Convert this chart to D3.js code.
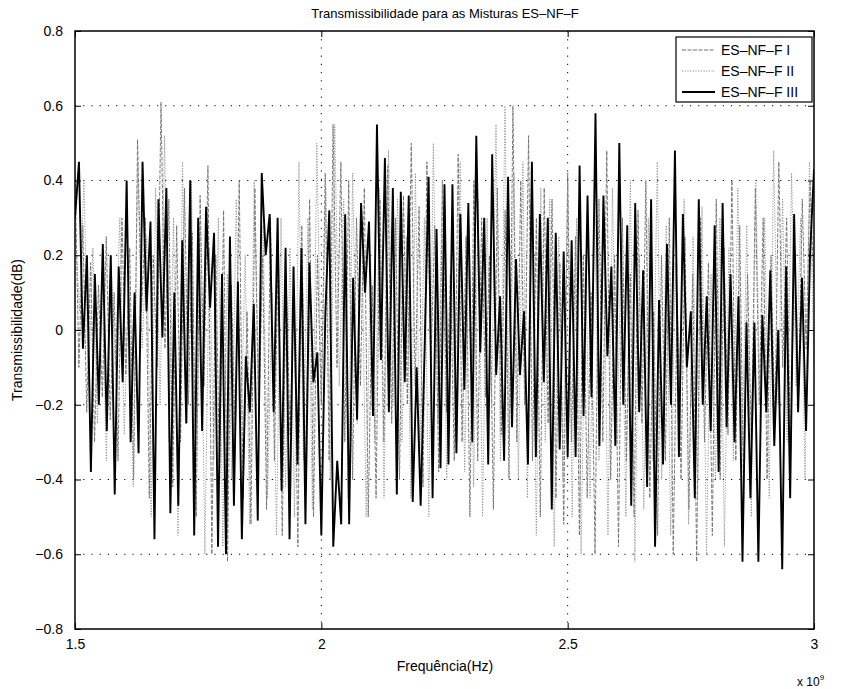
<!DOCTYPE html>
<html><head><meta charset="utf-8">
<script src="https://cdn.jsdelivr.net/npm/d3@7"></script>
<style>
body{margin:0;background:#fff;}
text{font-family:"Liberation Sans",Arial,Helvetica,sans-serif;fill:#000;}
</style></head>
<body><svg id="chart" width="841" height="689"></svg>
<script>
const title = "Transmissibilidade para as Misturas ES\u2013NF\u2013F";
const xLabel = "Frequência(Hz)";
const yLabel = "Transmissibilidade(dB)";
const seriesNames = ["ES\u2013NF\u2013F I","ES\u2013NF\u2013F II","ES\u2013NF\u2013F III"];
const xTicks = [1.5, 2, 2.5, 3];
const xTickLabels = ["1.5","2","2.5","3"];
const yTicks = [-0.8,-0.6,-0.4,-0.2,0,0.2,0.4,0.6,0.8];
const yTickLabels = ["\u22120.8","\u22120.6","\u22120.4","\u22120.2","0","0.2","0.4","0.6","0.8"];
const freqStart = 1.5, freqEnd = 3; // x 10^9 Hz

const seriesI = [
0.42,-0.10,0.28,-0.22,0.18,-0.30,0.12,-0.18,0.25,-0.24,
0.10,-0.35,0.30,-0.12,0.22,-0.40,0.51,0.05,0.30,-0.45,
0.20,-0.10,0.61,-0.05,0.35,-0.42,0.28,-0.30,0.38,-0.20,
0.26,-0.50,0.36,-0.15,0.44,-0.60,0.20,-0.40,0.32,-0.62,
0.12,-0.30,0.40,-0.45,0.05,-0.52,0.38,-0.25,0.20,-0.48,
0.30,-0.35,0.24,-0.55,0.15,-0.28,0.10,-0.58,0.28,-0.40,
0.35,-0.50,0.20,-0.20,0.42,-0.35,0.55,-0.10,0.45,-0.30,
0.40,-0.40,0.30,-0.15,0.38,-0.50,0.12,-0.45,0.35,-0.30,
0.44,-0.25,0.30,-0.40,0.36,-0.20,0.50,-0.15,0.33,-0.42,
0.45,-0.10,0.28,-0.38,0.40,-0.22,0.15,-0.35,0.47,-0.30,
0.25,-0.50,0.40,-0.35,0.30,-0.18,0.20,-0.48,0.38,-0.28,
0.32,-0.40,0.60,-0.30,0.40,-0.20,0.52,-0.35,0.30,-0.50,
0.38,-0.25,0.35,-0.45,0.18,-0.52,0.42,-0.30,0.25,-0.55,
0.20,-0.45,0.10,-0.60,0.35,-0.30,0.48,-0.40,0.20,-0.58,
0.30,-0.35,0.15,-0.50,0.32,-0.25,0.40,-0.45,0.05,-0.55,
0.20,-0.35,0.30,-0.60,0.10,-0.40,0.25,-0.48,0.15,-0.62,
0.30,-0.30,0.18,-0.55,0.35,-0.40,0.22,-0.28,0.40,-0.35,
0.28,-0.45,0.15,-0.30,0.38,-0.20,0.30,-0.40,0.20,-0.25,
0.45,-0.10,0.30,-0.35,0.22,-0.20,0.35,-0.05,0.40,0.10
];
const seriesII = [
0.30,0.05,0.40,-0.15,0.22,-0.25,0.15,-0.35,0.20,-0.10,
0.30,-0.28,0.15,-0.42,0.45,-0.05,0.25,-0.50,0.38,-0.20,
0.52,-0.30,0.30,-0.55,0.45,-0.25,0.40,-0.48,0.28,-0.60,
0.22,-0.35,0.30,-0.58,0.15,-0.40,0.35,-0.30,0.20,-0.52,
0.40,-0.20,0.28,-0.45,0.10,-0.55,0.30,-0.42,0.22,-0.50,
0.45,-0.35,0.30,-0.48,0.50,-0.20,0.38,-0.40,0.55,-0.15,
0.35,-0.45,0.42,-0.25,0.30,-0.50,0.20,-0.30,0.38,-0.45,
0.48,-0.20,0.35,-0.30,0.25,-0.45,0.42,-0.35,0.30,-0.50,
0.50,-0.25,0.40,-0.40,0.20,-0.30,0.45,-0.38,0.28,-0.42,
0.35,-0.50,0.30,-0.20,0.55,-0.35,0.60,-0.30,0.42,-0.40,
0.45,-0.45,0.30,-0.55,0.38,-0.30,0.35,-0.58,0.25,-0.40,
0.40,-0.50,0.30,-0.60,0.20,-0.45,0.32,-0.35,0.28,-0.55,
0.38,-0.30,0.25,-0.50,0.40,-0.62,0.20,-0.48,0.30,-0.35,
0.45,-0.40,0.28,-0.55,0.18,-0.30,0.35,-0.52,0.25,-0.45,
0.33,-0.60,0.15,-0.40,0.30,-0.58,0.22,-0.35,0.38,-0.30,
0.28,-0.50,0.40,-0.25,0.30,-0.45,0.48,-0.20,0.35,-0.30,
0.42,-0.15,0.30,-0.40,0.45,-0.10
];
const seriesIII = [
0.30,0.45,-0.05,0.20,-0.38,0.15,-0.20,0.23,-0.27,0.20,-0.44,0.17,-0.14,0.40,-0.30,0.10,-0.33,0.45,0.05,0.29,-0.56,0.35,-0.02,0.38,-0.49,0.10,-0.47,0.24,-0.25,0.40,-0.55,0.30,-0.27,
0.33,0.06,0.26,-0.58,0.15,-0.60,0.25,-0.47,0.13,-0.56,-0.07,-0.22,0.07,-0.51,0.42,0.20,0.31,-0.22,0.30,-0.43,0.22,-0.56,0.17,-0.36,0.22,-0.52,0.18,-0.14,-0.06,-0.55,0.04,
0.32,-0.58,-0.35,-0.52,0.31,-0.52,0.14,-0.24,0.34,0.10,0.29,-0.23,0.55,-0.08,0.46,-0.22,0.38,-0.44,0.37,-0.14,0.36,-0.46,-0.10,-0.47,-0.05,0.41,-0.45,0.27,-0.37,0.39,-0.36,
0.39,-0.33,0.31,-0.16,0.34,-0.30,0.52,-0.06,0.30,-0.36,0.47,-0.12,0.09,-0.35,0.41,-0.26,0.19,-0.12,0.05,-0.36,0.45,-0.34,0.31,-0.14,0.30,-0.48,0.26,-0.32,0.21,-0.34,
0.24,-0.34,0.44,-0.23,0.36,-0.18,0.58,-0.31,0.36,-0.07,0.17,-0.31,0.50,-0.20,0.28,-0.47,0.34,-0.22,0.16,-0.42,0.35,-0.58,0.08,-0.36,0.23,-0.20,0.48,-0.34,
0.31,-0.10,0.05,-0.45,0.35,-0.20,0.09,-0.27,0.28,-0.38,0.34,-0.26,0.15,-0.30,0.09,-0.62,0.02,-0.45,0.02,-0.62,0.04,-0.22,0.16,-0.31,0.00,-0.64,0.17,-0.45,0.31,-0.22,0.14,-0.27,0.20,0.43
];

const svg = d3.select("#chart");
const M = {left:75, right:814, top:31, bottom:629};
const x = d3.scaleLinear().domain([freqStart, freqEnd]).range([M.left, M.right]);
const y = d3.scaleLinear().domain([-0.8, 0.8]).range([M.bottom, M.top]);

// grid
const grid = svg.append("g");
grid.selectAll("line.gy").data(yTicks.slice(1,-1)).enter().append("line")
  .attr("x1",M.left).attr("x2",M.right).attr("y1",d=>y(d)).attr("y2",d=>y(d))
  .attr("stroke","#000").attr("stroke-width",1).attr("stroke-dasharray","1.2,7");
grid.selectAll("line.gx").data(xTicks.slice(1,-1)).enter().append("line")
  .attr("y1",M.top).attr("y2",M.bottom).attr("x1",d=>x(d)).attr("x2",d=>x(d))
  .attr("stroke","#000").attr("stroke-width",1).attr("stroke-dasharray","1.2,7");

function toPts(arr){
  const n = arr.length;
  return arr.map((v,i)=>[freqStart + (freqEnd-freqStart)*i/(n-1), v]);
}
const line = d3.line().x(d=>x(d[0])).y(d=>y(d[1]));
const styles = [
  {stroke:"#6e6e6e", width:0.9, dash:"4,1.5"},
  {stroke:"#8c8c8c", width:0.9, dash:"1.2,1.5"},
  {stroke:"#000", width:1.9, dash:null}
];
const allSeries = [seriesI, seriesII, seriesIII];
svg.append("clipPath").attr("id","clip").append("rect")
  .attr("x",M.left).attr("y",M.top).attr("width",M.right-M.left).attr("height",M.bottom-M.top);
const plot = svg.append("g").attr("clip-path","url(#clip)");
allSeries.forEach((s,i)=>{
  plot.append("path").datum(toPts(s)).attr("d",line).attr("fill","none")
    .attr("stroke",styles[i].stroke).attr("stroke-width",styles[i].width)
    .attr("stroke-dasharray",styles[i].dash).attr("stroke-linejoin","miter");
});

// frame
svg.append("rect").attr("x",M.left).attr("y",M.top).attr("width",M.right-M.left).attr("height",M.bottom-M.top)
  .attr("fill","none").attr("stroke","#000").attr("stroke-width",1.5);

// axes with inward ticks
const yAxisL = d3.axisLeft(y).tickValues(yTicks).tickSize(-6).tickFormat((d,i)=>yTickLabels[i]).tickPadding(12);
const gyl = svg.append("g").attr("transform",`translate(${M.left},0)`).call(yAxisL);
const yAxisR = d3.axisRight(y).tickValues(yTicks).tickSize(-6).tickFormat("");
const gyr = svg.append("g").attr("transform",`translate(${M.right},0)`).call(yAxisR);
const xAxisB = d3.axisBottom(x).tickValues(xTicks).tickSize(-6).tickFormat((d,i)=>xTickLabels[i]).tickPadding(10);
const gxb = svg.append("g").attr("transform",`translate(0,${M.bottom})`).call(xAxisB);
const xAxisT = d3.axisTop(x).tickValues(xTicks).tickSize(-6).tickFormat("");
const gxt = svg.append("g").attr("transform",`translate(0,${M.top})`).call(xAxisT);
[gyl,gyr,gxb,gxt].forEach(g=>{
  g.select(".domain").remove();
  g.selectAll(".tick line").attr("stroke","#000").attr("stroke-width",1);
  g.selectAll("text").attr("font-size",14).attr("font-family","Liberation Sans, Arial, sans-serif").attr("fill","#000");
});

// titles
svg.append("text").attr("x",445).attr("y",18).attr("text-anchor","middle").attr("font-size",13).text(title);
svg.append("text").attr("x",445).attr("y",671).attr("text-anchor","middle").attr("font-size",14).text(xLabel);
svg.append("text").attr("transform","translate(22,330) rotate(-90)").attr("text-anchor","middle").attr("font-size",14).text(yLabel);
const ex = svg.append("text").attr("x",797).attr("y",686).attr("font-size",12);
ex.append("tspan").text("x 10");
ex.append("tspan").attr("dy",-6).attr("font-size",8).text("9");

// legend
const lg = svg.append("g");
lg.append("rect").attr("x",676).attr("y",37).attr("width",136).attr("height",65)
  .attr("fill","#fff").attr("stroke","#000").attr("stroke-width",1.2);
seriesNames.forEach((n,i)=>{
  const yy = 50 + i*21;
  lg.append("line").attr("x1",682).attr("x2",715).attr("y1",yy).attr("y2",yy)
    .attr("stroke",styles[i].stroke).attr("stroke-width",Math.max(1,styles[i].width)).attr("stroke-dasharray",styles[i].dash);
  lg.append("text").attr("x",721).attr("y",yy+5).attr("font-size",14).text(n);
});
</script></body></html>
